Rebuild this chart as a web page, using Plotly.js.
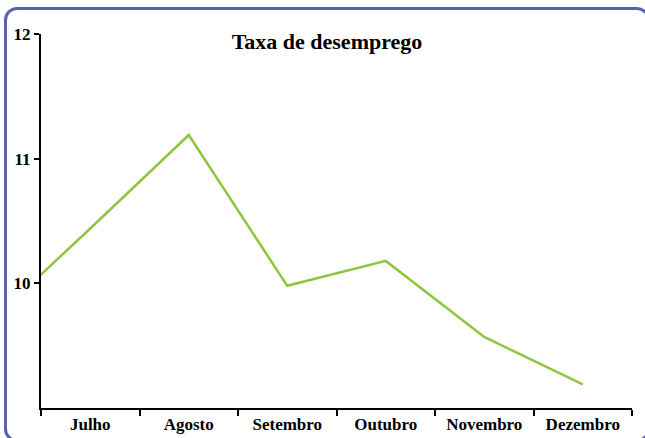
<!DOCTYPE html>
<html>
<head>
<meta charset="utf-8">
<script src="https://cdn.plot.ly/plotly-3.0.1.min.js"></script>
<style>
  html, body { margin: 0; padding: 0; background: #fff; overflow: hidden; }
  #wrap { position: relative; width: 645px; height: 438px; overflow: hidden; }
  #chart { position: absolute; left: 0; top: 0; width: 645px; height: 438px; }
  #frame {
    position: absolute; left: 4px; top: 7px; width: 646px; height: 435px;
    box-sizing: border-box;
    border: 3px solid #5a62ad; border-radius: 13px; pointer-events: none;
  }
</style>
</head>
<body>
<div id="wrap">
  <div id="chart"></div>
  <div id="frame"></div>
</div>
<script>
// Monthly unemployment rate (%); the June value only feeds the clipped lead-in segment
const months = ["Junho", "Julho", "Agosto", "Setembro", "Outubro", "Novembro", "Dezembro"];
const monthIndex = [-1, 0, 1, 2, 3, 4, 5];
const rate = [9.70, 10.44, 11.19, 9.98, 10.18, 9.57, 9.19];

const labelIndex = [0, 1, 2, 3, 4, 5];
const labelText = ["Julho", "Agosto", "Setembro", "Outubro", "Novembro", "Dezembro"];
const yTicks = [10, 11, 12];

const serif = "Liberation Serif, Times New Roman, serif";

const trace = {
  x: monthIndex,
  y: rate,
  text: months,
  type: "scatter",
  mode: "lines",
  line: { color: "#8cc63f", width: 2.5 },
  hoverinfo: "text+y"
};

const layout = {
  width: 645,
  height: 438,
  margin: { l: 41, r: 13, t: 34, b: 30 },
  paper_bgcolor: "rgba(0,0,0,0)",
  plot_bgcolor: "rgba(0,0,0,0)",
  showlegend: false,
  title: {
    text: "<b>Taxa de desemprego</b>",
    font: { family: serif, size: 22, color: "#000" },
    xref: "container", x: 0.507, xanchor: "center",
    yref: "container", y: 0.906, yanchor: "middle"
  },
  xaxis: {
    range: [-0.5, 5.5],
    tickmode: "array",
    tickvals: labelIndex,
    ticktext: labelText.map(t => "<b>" + t + "</b>"),
    ticks: "",
    tickfont: { family: serif, size: 17, color: "#000" },
    showgrid: false,
    zeroline: false,
    showline: true,
    linecolor: "#000",
    linewidth: 2,
    minor: {
      tickmode: "linear", tick0: -0.5, dtick: 1,
      ticks: "outside", ticklen: 6, tickwidth: 2, tickcolor: "#000",
      showgrid: false
    },
    fixedrange: true
  },
  yaxis: {
    range: [9, 12],
    tickmode: "array",
    tickvals: yTicks,
    ticktext: yTicks.map(v => "<b>" + v + "</b>"),
    ticks: "outside",
    ticklen: 5,
    tickwidth: 2,
    tickcolor: "#000",
    tickfont: { family: serif, size: 17, color: "#000" },
    showgrid: false,
    zeroline: false,
    showline: true,
    linecolor: "#000",
    linewidth: 2,
    fixedrange: true
  }
};

Plotly.newPlot("chart", [trace], layout, { displayModeBar: false, staticPlot: true });
</script>
</body>
</html>
